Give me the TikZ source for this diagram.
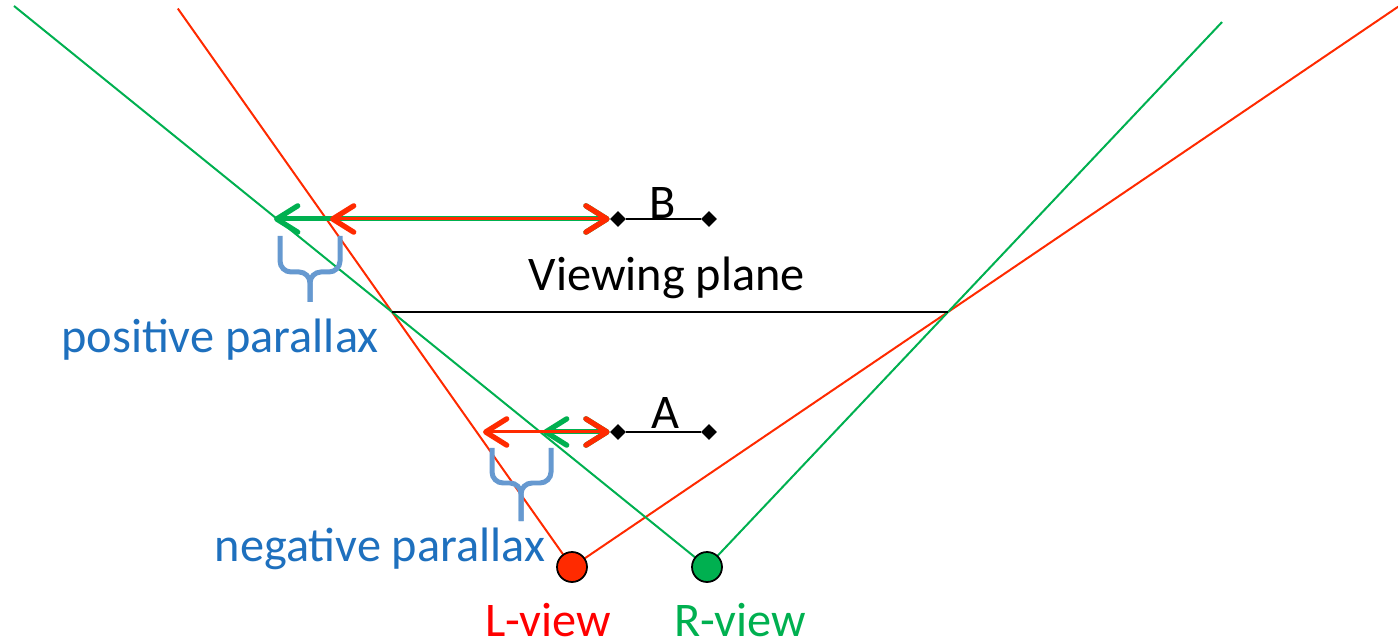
\documentclass[tikz,border=0pt]{standalone}
\usepackage{fontspec}
\setmainfont{Carlito}
\usepackage{xcolor}
\usetikzlibrary{arrows.meta,positioning,shapes.geometric,calc}
\definecolor{lred}{HTML}{FF2A00}
\definecolor{rgreen}{HTML}{00B050}
\definecolor{braceblue}{HTML}{6699D0}
\definecolor{textblue}{HTML}{1E70BE}
\tikzset{
  rayline/.style={draw=#1, line width=0.04cm},
  rayline/.default=lred,
  pararrow/.style={
    {Straight Barb[length=12pt,width=15pt,line width=3pt,round]}-{Straight Barb[length=12pt,width=15pt,line width=3pt,round]},
    draw=#1, line width=0.06cm
  },
  pararrow/.default=lred,
  endpoint/.style={diamond, fill=black, inner sep=0pt, minimum size=0.32cm},
  parbrace/.style={draw=braceblue, line width=0.1cm, rounded corners=0.22cm},
  viewdot/.style={circle, draw=black, fill=#1, line width=0.035cm,
    minimum size=0.6cm, inner sep=0pt},
  labeltext/.style={font=\fontsize{27.5}{32}\selectfont, color=#1, inner sep=0pt},
  labeltext/.default=black,
}
\begin{document}
\begin{tikzpicture}[x=0.02cm, y=-0.02cm]
  \useasboundingbox (0,0) rectangle (1398,644);
  % eyes and the viewing plane corners
  \coordinate (L) at (572,567);
  \coordinate (R) at (707,567);
  \coordinate (P1) at (392,312);
  \coordinate (P2) at (948,312);
  % rays
  \draw[rayline=lred] (L) -- ($(L)!2.19!(P1)$);
  \draw[rayline=lred] (L) -- ($(L)!2.197!(P2)$);
  \draw[rayline=rgreen] (R) -- ($(R)!2.2!(P1)$);
  \draw[rayline=rgreen] (R) -- ($(R)!2.137!(P2)$);
  % viewing plane
  \draw[black, line width=0.03cm] (P1) -- (P2);
  \node[labeltext] (plane) at (667,278) {Viewing plane};
  % object B
  \node[endpoint] (Bl) at (618,219) {};
  \node[endpoint] (Br) at (709,219) {};
  \draw[black, line width=0.04cm] (Bl) -- (Br);
  \node[labeltext] (Blab) at (663,203) {B};
  \coordinate (Bg) at (274,219);
  \coordinate (Br0) at (330,219);
  \draw[pararrow=rgreen, line width=0.1cm] (Bg) -- (Bl.west);
  \draw[pararrow=lred] (Br0) -- (Bl.west);
  % object A
  \node[endpoint] (Al) at (618,432) {};
  \node[endpoint] (Ar) at (709,432) {};
  \draw[black, line width=0.04cm] (Al) -- (Ar);
  \node[labeltext] (Alab) at (665,413) {A};
  \coordinate (Ag) at (543,432);
  \coordinate (Ar0) at (483,432);
  \draw[pararrow=rgreen, line width=0.1cm] (Ag) -- (Al.west);
  \draw[pararrow=lred] (Ar0) -- (Al.west);
  % braces
  \draw[parbrace] (280,236) |- (310,272) -- (310,302);
  \draw[parbrace] (340,236) |- (310,272) -- (310,302);
  \node[labeltext=textblue] (pos) at (220,340) {positive parallax};
  \draw[parbrace] (492,448) |- (521,483) -- (521,521);
  \draw[parbrace] (551,448) |- (521,483) -- (521,521);
  \node[labeltext=textblue] (neg) at (380,549) {negative parallax};
  % eyes
  \node[viewdot=lred] (Ldot) at (L) {};
  \node[viewdot=rgreen] (Rdot) at (R) {};
  \node[labeltext=red] (Llab) at (548,620) {L-view};
  \node[labeltext=rgreen] (Rlab) at (740,620) {R-view};
\end{tikzpicture}
\end{document}
